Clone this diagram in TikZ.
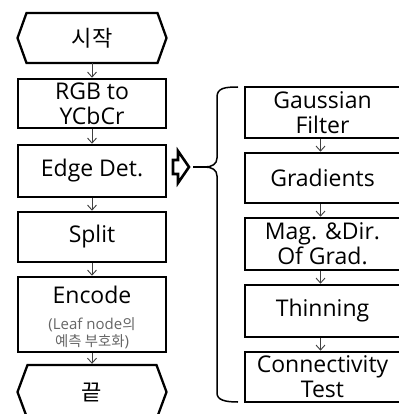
\documentclass[tikz,border=0pt]{standalone}
\usepackage{fontspec}
\setmainfont{Open Sans}
\newfontfamily\kr{Noto Sans CJK KR}[Scale=0.96]
\usetikzlibrary{arrows.meta,calc}
\begin{document}
\begin{tikzpicture}[x=1pt,y=-1pt,
  box/.style={draw=black, line width=2.6pt, minimum width=148pt, inner sep=0pt, align=center,
    font=\fontsize{23}{25}\selectfont},
  rbox/.style={box, minimum width=155pt},
  term/.style={draw=none, minimum width=149pt, inner sep=0pt, outer sep=0pt,
    font=\fontsize{23}{25}\selectfont},
  hex/.style={draw=black, line width=2.3pt, line join=miter},
  conn/.style={draw=black!75, line width=0.9pt, -{Straight Barb[length=5pt,width=9pt]}},
  small/.style={font=\fontsize{15}{18}\selectfont, text=black!60, inner sep=0pt},
  bracel/.style={draw=black, line width=1.5pt}
]
\useasboundingbox (0,0) rectangle (398,414);
\fill[white] (0,0) rectangle (398,414);

% left column
\node[term, minimum height=50pt] (start) at (92,38) {\kr 시작};
\draw[hex] ($(start.north west)+(9,0)$) -- ($(start.north east)+(-9,0)$) -- (start.east)
  -- ($(start.south east)+(-9,0)$) -- ($(start.south west)+(9,0)$) -- (start.west) -- cycle;

\node[box, minimum height=49pt] (rgb) at (92,103.5) {RGB to\\YCbCr};
\node[box, minimum height=52pt] (edge) at (92,171) {Edge Det.};
\node[box, minimum height=50pt] (split) at (92,237) {Split};
\node[box, minimum height=75pt] (enc) at (92,314.5) {};
\node[inner sep=0pt, anchor=base, font=\fontsize{23}{25}\selectfont] (enct) at (92,303) {Encode};
\node[small, anchor=base] (enc2) at (92,329) {(Leaf node{\kr 의}};
\node[small, anchor=base] (enc3) at (92,346) {{\kr 예측 부호화})};

\node[term, minimum height=54pt] (end) at (92,392) {\kr 끝};
\draw[hex] ($(end.north west)+(10,0)$) -- ($(end.north east)+(-10,0)$) -- (end.east)
  -- ($(end.south east)+(-10,0)$) -- ($(end.south west)+(10,0)$) -- (end.west) -- cycle;

\draw[conn] (start.south) -- (rgb.north);
\draw[conn] (rgb.south) -- (edge.north);
\draw[conn] (edge.south) -- (split.north);
\draw[conn] (split.south) -- (enc.north);
\draw[conn, shorten >=1.2pt] (enc.south) -- (end.north);

% hollow arrow
\draw[line width=2.6pt, fill=white, line join=miter]
  (173,160) -- (178,160) -- (178,151) -- (189,167) -- (178,183) -- (178,174) -- (173,174) -- cycle;
\coordinate (atip) at (193,167);
\coordinate (btip) at (205,167);
\draw[bracel] (atip) -- (btip);
% brace
\draw[bracel] (238,87) .. controls (225,87) and (217,88) .. (217,97) -- (217,158)
  .. controls (217,164) and (212,167) .. (btip)
  .. controls (212,167) and (217,170) .. (217,176) -- (217,393)
  .. controls (217,400) and (225,402) .. (238,402);

% right column
\node[rbox, minimum height=51pt] (gauss) at (322.5,112.5) {Gaussian\\Filter};
\node[rbox, minimum height=50pt] (grad) at (322.5,178) {Gradients};
\node[rbox, minimum height=52pt] (mag) at (322.5,244) {Mag. \&Dir.\\Of Grad.};
\node[rbox, minimum height=52pt] (thin) at (322.5,311) {Thinning};
\node[rbox, minimum height=50pt] (conn) at (322.5,377) {Connectivity\\Test};

\draw[conn] ([xshift=-2pt]gauss.south) -- ([xshift=-2pt]grad.north);
\draw[conn] ([xshift=-2pt]grad.south) -- ([xshift=-2pt]mag.north);
\draw[conn] ([xshift=-2pt]mag.south) -- ([xshift=-2pt]thin.north);
\draw[conn] ([xshift=-2pt]thin.south) -- ([xshift=-2pt]conn.north);
\end{tikzpicture}
\end{document}
